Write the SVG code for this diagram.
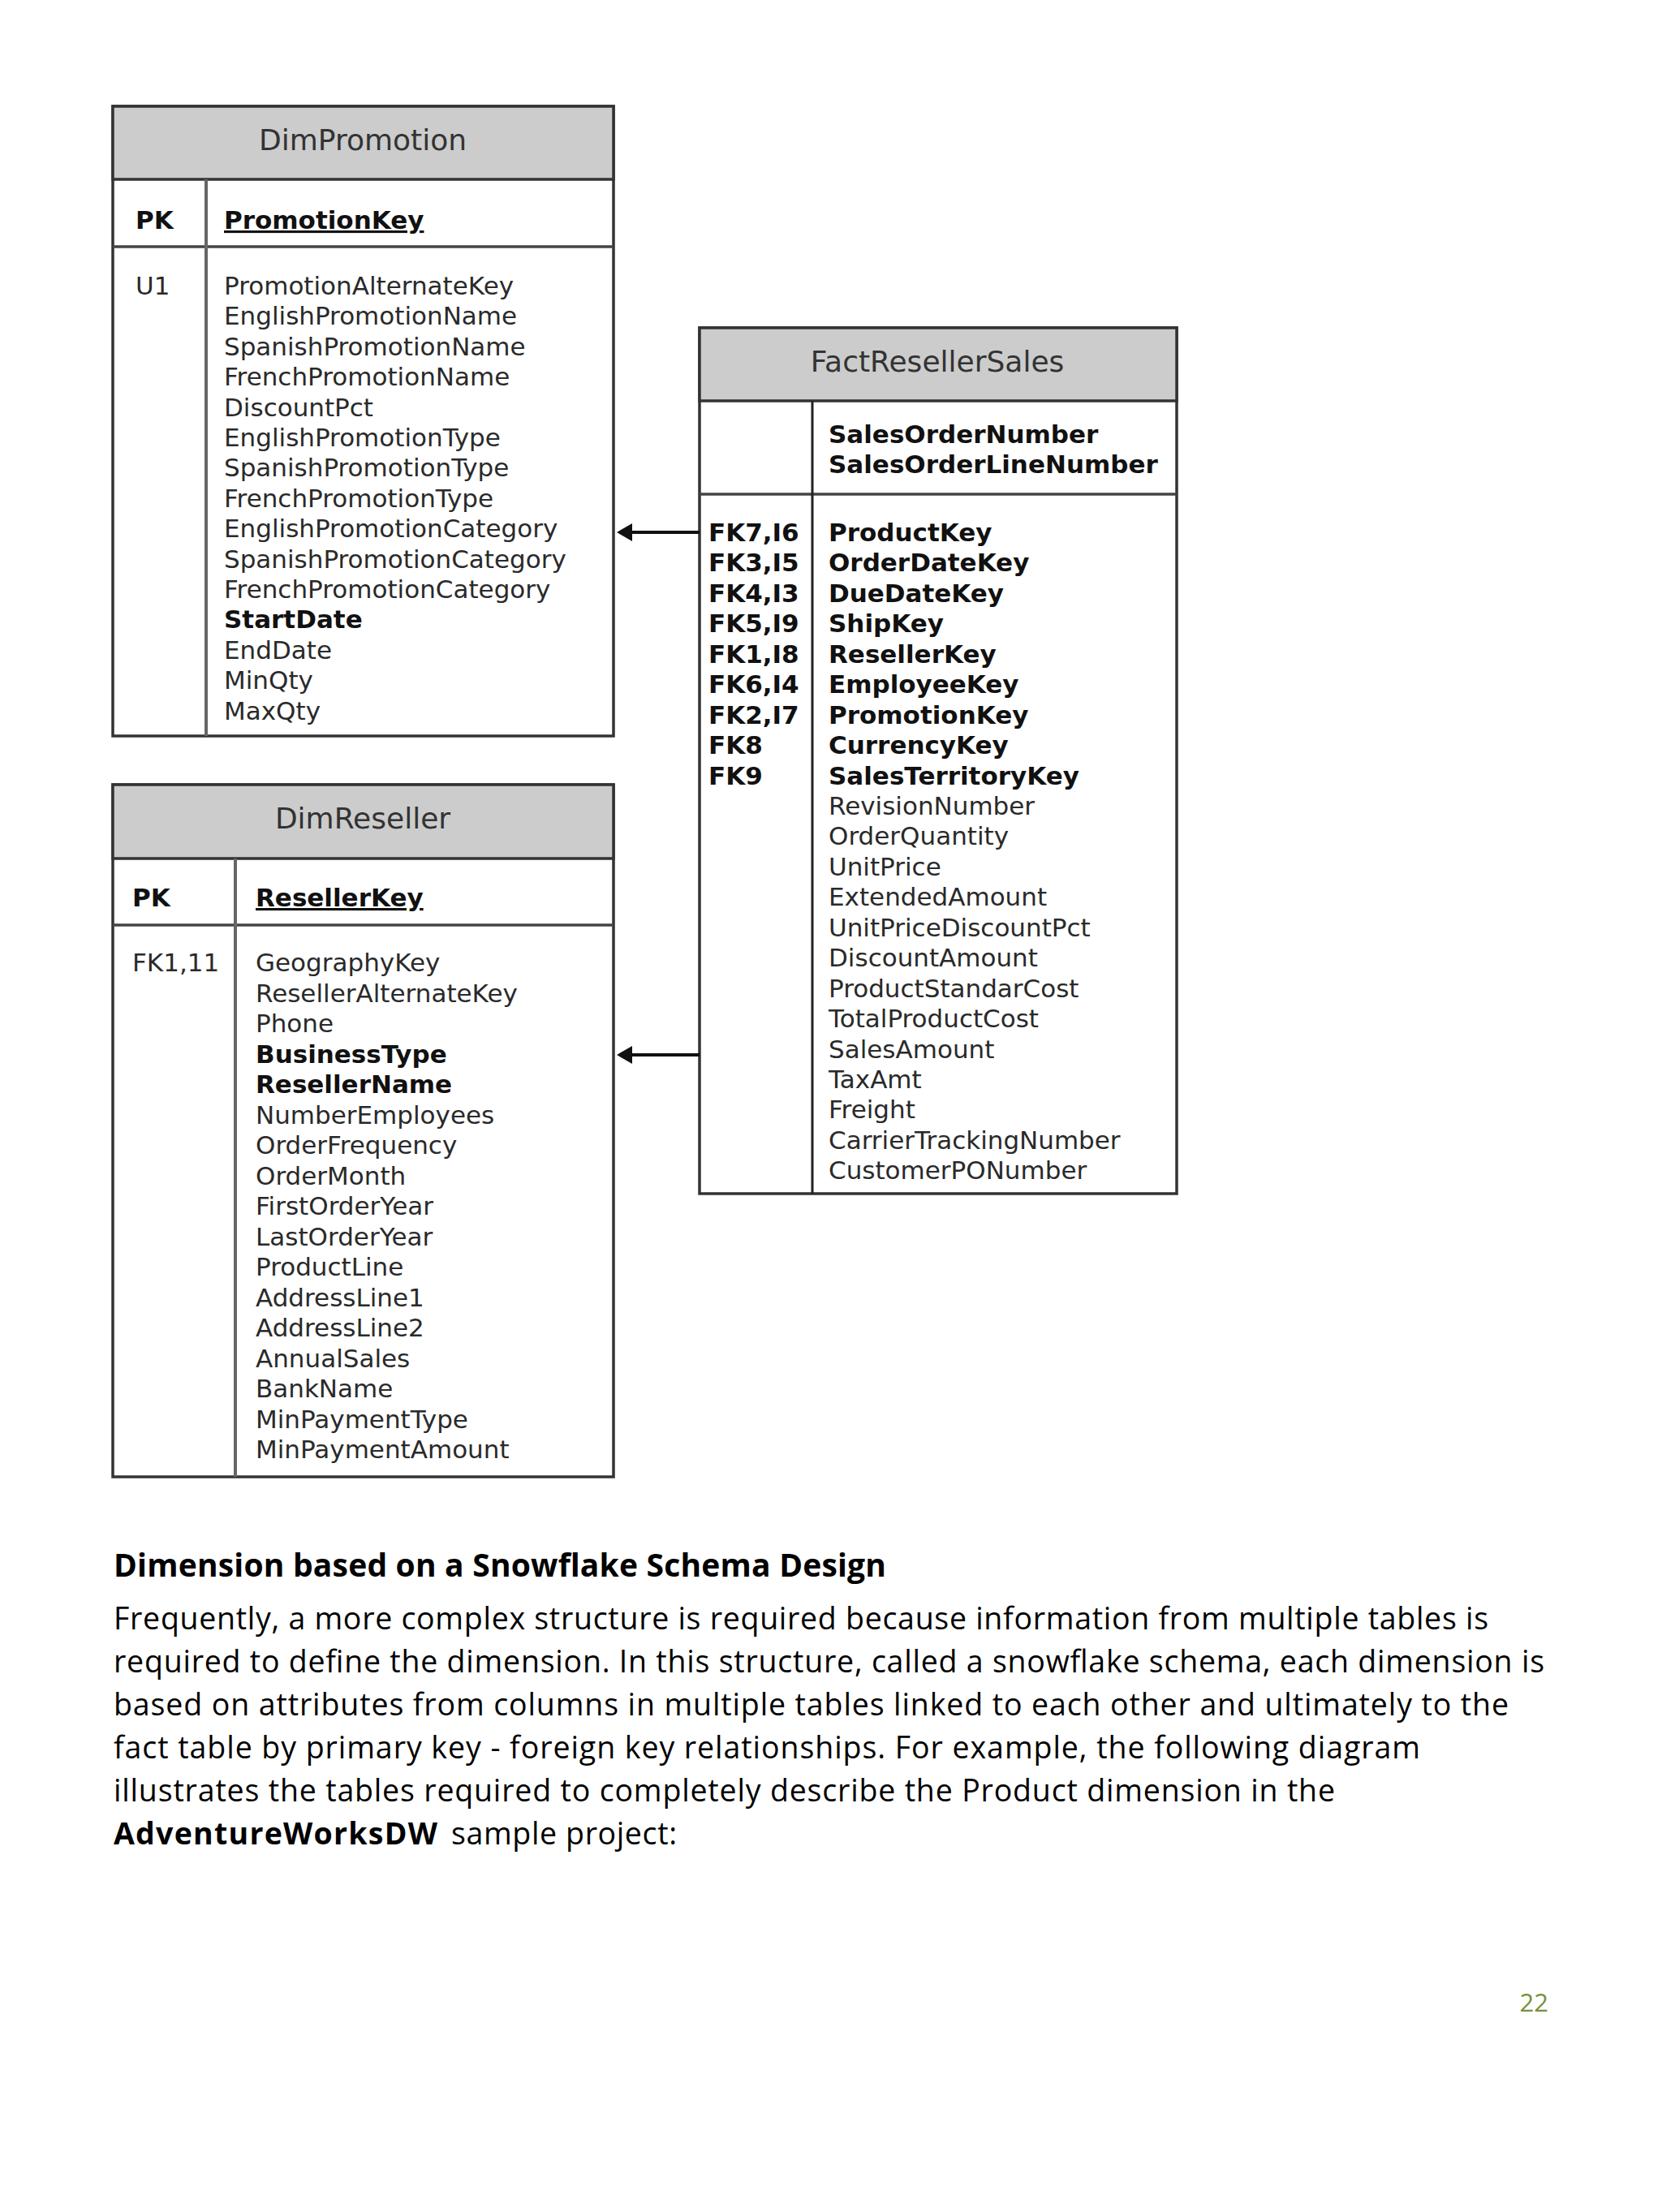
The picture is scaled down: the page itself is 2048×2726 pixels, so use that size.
<svg xmlns="http://www.w3.org/2000/svg" width="2048" height="2726" viewBox="0 0 2048 2726">
<style>
.box{fill:#ffffff;stroke:#333333;stroke-width:3.5}
.hdr{fill:#cccccc;stroke:#333333;stroke-width:3.5}
.hl{stroke:#444444;stroke-width:3.5}
.vl{stroke:#666666;stroke-width:4}
.vlf{stroke:#222222;stroke-width:3}
.title{font-family:"DejaVu Sans",Verdana,sans-serif;font-size:36px;fill:#333333;text-anchor:middle}
.f{font-family:"DejaVu Sans",Verdana,sans-serif;font-size:31px;fill:#2a2a2a}
.b{font-family:"DejaVu Sans",Verdana,sans-serif;font-size:31px;font-weight:bold;fill:#111111}
.u{text-decoration:underline}
.conn{stroke:#111111;stroke-width:4;fill:none}
.head{fill:#111111}
.h1{font-family:"Open Sans","Noto Sans",sans-serif;font-size:39px;font-weight:bold;fill:#000000}
.p{font-family:"Open Sans","Noto Sans",sans-serif;font-size:37.5px;fill:#000000}
.pb{font-family:"Open Sans","Noto Sans",sans-serif;font-size:37.5px;font-weight:bold;fill:#000000}
.pg{font-family:"Open Sans","Noto Sans",sans-serif;font-size:31px;fill:#76923c;text-anchor:end}
</style>
<rect width="2048" height="2726" fill="#ffffff"/>

<g id="DimPromotion">
<rect class="box" x="139" y="131" width="617" height="776"/>
<rect class="hdr" x="139" y="131" width="617" height="90"/>
<line class="hl" x1="139" y1="304" x2="756" y2="304"/>
<line class="vl" x1="254" y1="221" x2="254" y2="907"/>
<text class="title" x="447" y="185">DimPromotion</text>
<text class="b" x="167" y="282">PK</text>
<text class="b u" x="276" y="282">PromotionKey</text>
<text class="f" x="167" y="363">U1</text>
<text class="f" x="276" y="363">PromotionAlternateKey</text>
<text class="f" x="276" y="400.4">EnglishPromotionName</text>
<text class="f" x="276" y="437.8">SpanishPromotionName</text>
<text class="f" x="276" y="475.2">FrenchPromotionName</text>
<text class="f" x="276" y="512.6">DiscountPct</text>
<text class="f" x="276" y="550">EnglishPromotionType</text>
<text class="f" x="276" y="587.4">SpanishPromotionType</text>
<text class="f" x="276" y="624.8">FrenchPromotionType</text>
<text class="f" x="276" y="662.2">EnglishPromotionCategory</text>
<text class="f" x="276" y="699.6">SpanishPromotionCategory</text>
<text class="f" x="276" y="737">FrenchPromotionCategory</text>
<text class="b" x="276" y="774.4">StartDate</text>
<text class="f" x="276" y="811.8">EndDate</text>
<text class="f" x="276" y="849.2">MinQty</text>
<text class="f" x="276" y="886.6">MaxQty</text>
</g>

<g id="DimReseller">
<rect class="box" x="139" y="967" width="617" height="853"/>
<rect class="hdr" x="139" y="967" width="617" height="91"/>
<line class="hl" x1="139" y1="1140" x2="756" y2="1140"/>
<line class="vl" x1="290" y1="1058" x2="290" y2="1820"/>
<text class="title" x="447" y="1021">DimReseller</text>
<text class="b" x="163" y="1117">PK</text>
<text class="b u" x="315" y="1117">ResellerKey</text>
<text class="f" x="163" y="1197">FK1,11</text>
<text class="f" x="315" y="1197">GeographyKey</text>
<text class="f" x="315" y="1234.5">ResellerAlternateKey</text>
<text class="f" x="315" y="1272">Phone</text>
<text class="b" x="315" y="1309.5">BusinessType</text>
<text class="b" x="315" y="1347">ResellerName</text>
<text class="f" x="315" y="1384.5">NumberEmployees</text>
<text class="f" x="315" y="1422">OrderFrequency</text>
<text class="f" x="315" y="1459.5">OrderMonth</text>
<text class="f" x="315" y="1497">FirstOrderYear</text>
<text class="f" x="315" y="1534.5">LastOrderYear</text>
<text class="f" x="315" y="1572">ProductLine</text>
<text class="f" x="315" y="1609.5">AddressLine1</text>
<text class="f" x="315" y="1647">AddressLine2</text>
<text class="f" x="315" y="1684.5">AnnualSales</text>
<text class="f" x="315" y="1722">BankName</text>
<text class="f" x="315" y="1759.5">MinPaymentType</text>
<text class="f" x="315" y="1797">MinPaymentAmount</text>
</g>

<g id="FactResellerSales">
<rect class="box" x="862" y="404" width="588" height="1067"/>
<rect class="hdr" x="862" y="404" width="588" height="90"/>
<line class="hl" x1="862" y1="609" x2="1450" y2="609"/>
<line class="vlf" x1="1001" y1="494" x2="1001" y2="1471"/>
<text class="title" x="1155" y="458">FactResellerSales</text>
<text class="b" x="1021" y="546">SalesOrderNumber</text>
<text class="b" x="1021" y="583">SalesOrderLineNumber</text>
<text class="b" x="873" y="667">FK7,I6</text>
<text class="b" x="873" y="704.4">FK3,I5</text>
<text class="b" x="873" y="741.9">FK4,I3</text>
<text class="b" x="873" y="779.3">FK5,I9</text>
<text class="b" x="873" y="816.8">FK1,I8</text>
<text class="b" x="873" y="854.2">FK6,I4</text>
<text class="b" x="873" y="891.6">FK2,I7</text>
<text class="b" x="873" y="929.1">FK8</text>
<text class="b" x="873" y="966.5">FK9</text>
<text class="b" x="1021" y="667">ProductKey</text>
<text class="b" x="1021" y="704.4">OrderDateKey</text>
<text class="b" x="1021" y="741.9">DueDateKey</text>
<text class="b" x="1021" y="779.3">ShipKey</text>
<text class="b" x="1021" y="816.8">ResellerKey</text>
<text class="b" x="1021" y="854.2">EmployeeKey</text>
<text class="b" x="1021" y="891.6">PromotionKey</text>
<text class="b" x="1021" y="929.1">CurrencyKey</text>
<text class="b" x="1021" y="966.5">SalesTerritoryKey</text>
<text class="f" x="1021" y="1004">RevisionNumber</text>
<text class="f" x="1021" y="1041.4">OrderQuantity</text>
<text class="f" x="1021" y="1078.8">UnitPrice</text>
<text class="f" x="1021" y="1116.3">ExtendedAmount</text>
<text class="f" x="1021" y="1153.7">UnitPriceDiscountPct</text>
<text class="f" x="1021" y="1191.2">DiscountAmount</text>
<text class="f" x="1021" y="1228.6">ProductStandarCost</text>
<text class="f" x="1021" y="1266">TotalProductCost</text>
<text class="f" x="1021" y="1303.5">SalesAmount</text>
<text class="f" x="1021" y="1340.9">TaxAmt</text>
<text class="f" x="1021" y="1378.4">Freight</text>
<text class="f" x="1021" y="1415.8">CarrierTrackingNumber</text>
<text class="f" x="1021" y="1453.2">CustomerPONumber</text>
</g>

<g id="connectors">
<line class="conn" x1="862" y1="656" x2="776" y2="656"/>
<polygon class="head" points="760,656 779,645 779,667"/>
<line class="conn" x1="862" y1="1300" x2="776" y2="1300"/>
<polygon class="head" points="760,1300 779,1289 779,1311"/>
</g>

<g id="text">
<text class="h1" x="140" y="1943" textLength="952">Dimension based on a Snowflake Schema Design</text>
<text class="p" x="140" y="2008" textLength="1694">Frequently, a more complex structure is required because information from multiple tables is</text>
<text class="p" x="140" y="2061" textLength="1763">required to define the dimension. In this structure, called a snowflake schema, each dimension is</text>
<text class="p" x="140" y="2114" textLength="1719">based on attributes from columns in multiple tables linked to each other and ultimately to the</text>
<text class="p" x="140" y="2167" textLength="1610">fact table by primary key - foreign key relationships. For example, the following diagram</text>
<text class="p" x="140" y="2220" textLength="1505">illustrates the tables required to completely describe the Product dimension in the</text>
<text class="pb" x="140" y="2273" textLength="399">AdventureWorksDW</text>
<text class="p" x="556" y="2273" textLength="278">sample project:</text>
<text class="pg" x="1908" y="2479">22</text>
</g>
</svg>
